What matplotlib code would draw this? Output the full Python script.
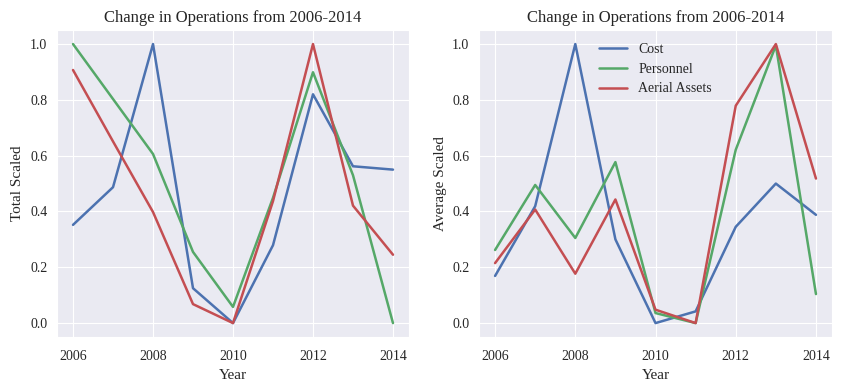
import matplotlib
matplotlib.use("Agg")
import matplotlib.pyplot as plt
import seaborn as sns

years = [2006, 2007, 2008, 2009, 2010, 2011, 2012, 2013, 2014]

# total scaled (left panel)
total_cost = [0.352, 0.487, 1.0, 0.125, 0.0, 0.279, 0.820, 0.562, 0.550]
total_personnel = [1.0, 0.803, 0.606, 0.255, 0.058, 0.449, 0.899, 0.530, 0.0]
total_aerial = [0.907, 0.651, 0.398, 0.068, 0.0, 0.437, 1.0, 0.421, 0.245]

# average scaled (right panel)
avg_cost = [0.169, 0.419, 1.0, 0.300, 0.0, 0.042, 0.345, 0.500, 0.388]
avg_personnel = [0.262, 0.495, 0.305, 0.577, 0.036, 0.0, 0.621, 0.995, 0.104]
avg_aerial = [0.215, 0.407, 0.177, 0.443, 0.048, 0.0, 0.779, 1.0, 0.518]

labels = ["Cost", "Personnel", "Aerial Assets"]
colors = ["#4C72B0", "#55A868", "#C44E52"]

sns.set_style("darkgrid")
plt.rcParams["font.family"] = ["Liberation Serif", "DejaVu Serif"]

fig = plt.figure(figsize=(8.41, 3.91), dpi=100)
ax1 = fig.add_axes([0.0678, 0.138, 0.4185, 0.785])
ax2 = fig.add_axes([0.5696, 0.138, 0.4197, 0.785])

for ax, series, ylabel in [
    (ax1, [total_cost, total_personnel, total_aerial], "Total Scaled"),
    (ax2, [avg_cost, avg_personnel, avg_aerial], "Average Scaled"),
]:
    for vals, lab, col in zip(series, labels, colors):
        ax.plot(years, vals, color=col, lw=1.8, label=lab)
    ax.set_title("Change in Operations from 2006-2014", fontsize=12)
    ax.set_xlabel("Year", fontsize=11)
    ax.set_ylabel(ylabel, fontsize=11)
    ax.set_xticks([2006, 2008, 2010, 2012, 2014])
    ax.set_yticks([0.0, 0.2, 0.4, 0.6, 0.8, 1.0])
    ax.tick_params(labelsize=10)
    ax.tick_params(axis="x", pad=6)

ax2.legend(loc="upper center", frameon=False, fontsize=10)

fig.savefig("out.png", dpi=100)
